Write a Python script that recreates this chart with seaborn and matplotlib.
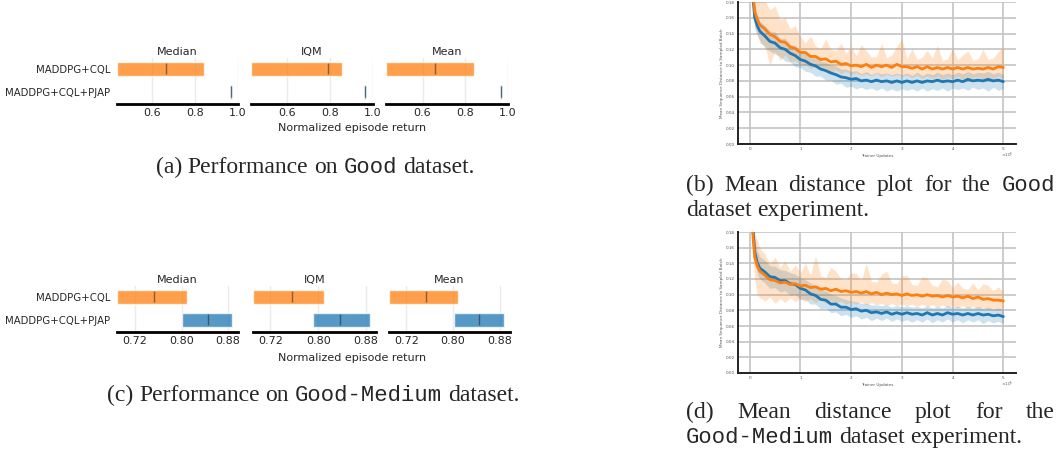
import numpy as np
import pandas as pd
import matplotlib
matplotlib.use("Agg")
import matplotlib.pyplot as plt
from matplotlib.ticker import FixedLocator, FormatStrFormatter
import seaborn as sns

W, H = 1062, 454

ALGOS = ["MADDPG+CQL", "MADDPG+CQL+PJAP"]
METRICS = ["Median", "IQM", "Mean"]

# (a) Good dataset: CI low / CI high / point estimate, one value per metric
GOOD_CQL_LO = [0.440, 0.432, 0.428]
GOOD_CQL_HI = [0.842, 0.855, 0.842]
GOOD_CQL_PT = [0.665, 0.791, 0.660]
GOOD_PJAP_LO = [0.961, 0.957, 0.965]
GOOD_PJAP_HI = [0.970, 0.967, 0.975]
GOOD_PJAP_PT = [0.966, 0.962, 0.970]
GOOD_TICKS = [0.6, 0.8, 1.0]

# (c) Good-Medium dataset
GM_CQL_LO = [0.689, 0.691, 0.690]
GM_CQL_HI = [0.8085, 0.8096, 0.809]
GM_CQL_PT = [0.753, 0.757, 0.753]
GM_PJAP_LO = [0.8005, 0.7916, 0.802]
GM_PJAP_HI = [0.887, 0.887, 0.888]
GM_PJAP_PT = [0.845, 0.837, 0.844]
GM_TICKS = [0.72, 0.80, 0.88]

# trainer updates (x 1e5) shared by the distance curves
UPDATES = [0.02, 0.06, 0.1, 0.15, 0.2,
           0.3, 0.4, 0.5, 0.6, 0.7, 0.8, 0.9, 1.0,
           1.1, 1.2, 1.3, 1.4, 1.5, 1.6, 1.7, 1.8, 1.9, 2.0,
           2.1, 2.2, 2.3, 2.4, 2.5, 2.6, 2.7, 2.8, 2.9, 3.0,
           3.1, 3.2, 3.3, 3.4, 3.5, 3.6, 3.7, 3.8, 3.9, 4.0,
           4.1, 4.2, 4.3, 4.4, 4.5, 4.6, 4.7, 4.8, 4.9, 5.0]
X_TICKS = [0, 1, 2, 3, 4, 5]

# (b) Good dataset distance curves
B_BLUE = [0.260, 0.190, 0.160, 0.150, 0.143,
          0.137, 0.130, 0.128, 0.122, 0.120, 0.115, 0.112, 0.107,
          0.105, 0.101, 0.099, 0.095, 0.093, 0.090, 0.088, 0.085, 0.084, 0.082,
          0.083, 0.080, 0.081, 0.079, 0.081, 0.079, 0.080, 0.078, 0.080, 0.078,
          0.080, 0.078, 0.080, 0.078, 0.080, 0.079, 0.081, 0.079, 0.080, 0.079,
          0.081, 0.079, 0.082, 0.080, 0.081, 0.080, 0.082, 0.080, 0.081, 0.079]
B_BLUE_LO = [0.240, 0.170, 0.146, 0.138, 0.131,
             0.122, 0.118, 0.114, 0.111, 0.105, 0.104, 0.098, 0.097,
             0.092, 0.091, 0.086, 0.086, 0.081, 0.081, 0.076, 0.077, 0.072, 0.073,
             0.070, 0.072, 0.069, 0.071, 0.068, 0.071, 0.067, 0.070, 0.067, 0.070,
             0.068, 0.070, 0.067, 0.071, 0.067, 0.070, 0.068, 0.071, 0.067, 0.071,
             0.069, 0.071, 0.068, 0.072, 0.069, 0.071, 0.067, 0.072, 0.068, 0.070]
B_BLUE_HI = [0.290, 0.210, 0.175, 0.163, 0.156,
             0.150, 0.143, 0.142, 0.134, 0.134, 0.126, 0.125, 0.118,
             0.117, 0.111, 0.111, 0.105, 0.104, 0.100, 0.099, 0.095, 0.095, 0.092,
             0.093, 0.089, 0.092, 0.088, 0.091, 0.089, 0.090, 0.088, 0.090, 0.088,
             0.090, 0.087, 0.091, 0.087, 0.090, 0.088, 0.091, 0.088, 0.090, 0.088,
             0.091, 0.089, 0.092, 0.089, 0.091, 0.090, 0.092, 0.089, 0.091, 0.088]
B_ORANGE = [0.270, 0.200, 0.168, 0.158, 0.151,
            0.146, 0.139, 0.136, 0.130, 0.129, 0.123, 0.121, 0.116,
            0.116, 0.111, 0.111, 0.107, 0.108, 0.104, 0.105, 0.101, 0.102, 0.099,
            0.100, 0.098, 0.101, 0.097, 0.100, 0.098, 0.100, 0.097, 0.101, 0.098,
            0.098, 0.096, 0.098, 0.095, 0.098, 0.095, 0.097, 0.095, 0.097, 0.095,
            0.097, 0.095, 0.097, 0.095, 0.096, 0.095, 0.097, 0.095, 0.098, 0.097]
B_ORANGE_LO = [0.240, 0.175, 0.150, 0.140, 0.128,
               0.125, 0.100, 0.118, 0.106, 0.113, 0.104, 0.106, 0.100,
               0.101, 0.096, 0.098, 0.093, 0.095, 0.091, 0.094, 0.089, 0.092, 0.088,
               0.090, 0.087, 0.089, 0.086, 0.090, 0.085, 0.089, 0.086, 0.088, 0.086,
               0.087, 0.084, 0.087, 0.083, 0.086, 0.083, 0.086, 0.082, 0.085, 0.083,
               0.086, 0.082, 0.085, 0.083, 0.086, 0.082, 0.085, 0.083, 0.086, 0.083]
B_ORANGE_HI = [0.300, 0.230, 0.200, 0.190, 0.185,
               0.182, 0.170, 0.175, 0.158, 0.160, 0.146, 0.150, 0.136,
               0.128, 0.137, 0.124, 0.121, 0.133, 0.120, 0.118, 0.128, 0.115, 0.124,
               0.112, 0.126, 0.118, 0.110, 0.111, 0.128, 0.109, 0.113, 0.124, 0.133,
               0.108, 0.121, 0.107, 0.110, 0.119, 0.109, 0.125, 0.106, 0.108, 0.122,
               0.107, 0.113, 0.118, 0.106, 0.108, 0.120, 0.107, 0.109, 0.117, 0.124]

# (d) Good-Medium dataset distance curves
D_BLUE = [0.280, 0.190, 0.155, 0.141, 0.134,
          0.129, 0.123, 0.122, 0.118, 0.118, 0.114, 0.113, 0.108,
          0.106, 0.101, 0.099, 0.094, 0.093, 0.088, 0.088, 0.084, 0.084, 0.081,
          0.082, 0.079, 0.080, 0.077, 0.078, 0.076, 0.078, 0.075, 0.077, 0.075,
          0.077, 0.075, 0.076, 0.074, 0.077, 0.074, 0.076, 0.074, 0.077, 0.075,
          0.076, 0.074, 0.076, 0.074, 0.076, 0.074, 0.075, 0.073, 0.074, 0.072]
D_BLUE_LO = [0.255, 0.170, 0.140, 0.127, 0.120,
             0.115, 0.108, 0.109, 0.103, 0.105, 0.099, 0.100, 0.094,
             0.094, 0.088, 0.088, 0.082, 0.083, 0.077, 0.078, 0.073, 0.075, 0.071,
             0.073, 0.069, 0.071, 0.067, 0.070, 0.067, 0.070, 0.066, 0.069, 0.066,
             0.068, 0.065, 0.068, 0.065, 0.069, 0.064, 0.068, 0.065, 0.069, 0.065,
             0.068, 0.064, 0.068, 0.065, 0.068, 0.063, 0.067, 0.064, 0.066, 0.063]
D_BLUE_HI = [0.305, 0.215, 0.172, 0.157, 0.149,
             0.144, 0.137, 0.136, 0.132, 0.131, 0.128, 0.126, 0.122,
             0.119, 0.115, 0.112, 0.108, 0.105, 0.101, 0.099, 0.096, 0.094, 0.092,
             0.091, 0.089, 0.089, 0.087, 0.087, 0.086, 0.087, 0.084, 0.086, 0.084,
             0.086, 0.084, 0.085, 0.083, 0.086, 0.083, 0.085, 0.083, 0.086, 0.084,
             0.085, 0.083, 0.085, 0.083, 0.085, 0.083, 0.084, 0.082, 0.083, 0.081]
D_ORANGE = [0.280, 0.180, 0.148, 0.137, 0.130,
            0.125, 0.119, 0.118, 0.115, 0.116, 0.113, 0.114, 0.111,
            0.112, 0.109, 0.110, 0.107, 0.108, 0.105, 0.107, 0.104, 0.105, 0.103,
            0.104, 0.102, 0.104, 0.101, 0.103, 0.100, 0.102, 0.100, 0.101, 0.099,
            0.101, 0.099, 0.100, 0.098, 0.100, 0.098, 0.099, 0.097, 0.099, 0.097,
            0.098, 0.096, 0.098, 0.095, 0.097, 0.094, 0.095, 0.093, 0.093, 0.092]
D_ORANGE_LO = [0.250, 0.150, 0.120, 0.100, 0.096,
               0.092, 0.097, 0.089, 0.095, 0.090, 0.096, 0.091, 0.095,
               0.091, 0.095, 0.090, 0.094, 0.089, 0.093, 0.089, 0.092, 0.088, 0.091,
               0.088, 0.091, 0.087, 0.090, 0.087, 0.089, 0.086, 0.089, 0.086, 0.088,
               0.086, 0.088, 0.085, 0.088, 0.085, 0.087, 0.084, 0.087, 0.084, 0.086,
               0.083, 0.086, 0.083, 0.085, 0.082, 0.084, 0.081, 0.083, 0.080, 0.082]
D_ORANGE_HI = [0.310, 0.215, 0.180, 0.170, 0.160,
               0.152, 0.140, 0.148, 0.135, 0.143, 0.130, 0.138, 0.128,
               0.140, 0.125, 0.150, 0.124, 0.122, 0.135, 0.130, 0.120, 0.119, 0.128,
               0.127, 0.118, 0.140, 0.117, 0.116, 0.126, 0.130, 0.115, 0.114, 0.124,
               0.125, 0.113, 0.112, 0.123, 0.121, 0.112, 0.110, 0.120, 0.118, 0.109,
               0.116, 0.108, 0.107, 0.115, 0.106, 0.114, 0.112, 0.105, 0.110, 0.104]

sns.set_theme(style="white")
plt.rcParams['font.family'] = ['DejaVu Sans']
pal = sns.color_palette("tab10")
BLUE, ORANGE = pal[0], pal[1]
ALGO_COLORS = [ORANGE, BLUE]


def px_rect(x0, y0, x1, y1):
    return [x0 / W, 1 - y1 / H, (x1 - x0) / W, (y1 - y0) / H]


def interval_row(fig, spans, top, bottom, lows, highs, points, ticks, fmt):
    for m, metric in enumerate(METRICS):
        ax = fig.add_axes(px_rect(spans[m][0], top, spans[m][1], bottom))
        for i, algo in enumerate(ALGOS):
            lo, hi, pt = lows[i][m], highs[i][m], points[i][m]
            ax.barh(y=i, width=hi - lo, left=lo, height=0.6,
                    color=ALGO_COLORS[i], alpha=0.75)
            ax.vlines(pt, i - 7.5 * 0.6 / 16, i + 6 * 0.6 / 16,
                      color='k', alpha=0.5, lw=1)
        ax.autoscale_view()
        x_lo, x_hi = ax.get_xlim()
        ax.set_xlim(x_lo, max(x_hi, ticks[-1]))
        ax.set_ylim(1.52, -0.48)
        ax.xaxis.set_major_locator(FixedLocator(ticks))
        ax.xaxis.set_major_formatter(FormatStrFormatter(fmt))
        if m == 0:
            ax.set_yticks(range(len(ALGOS)))
            ax.set_yticklabels(ALGOS, fontsize=7.3)
        else:
            ax.set_yticks([])
        ax.set_title(metric, fontsize=8, pad=2)
        for side in ['left', 'top', 'right']:
            ax.spines[side].set_visible(False)
        ax.spines['bottom'].set_linewidth(2)
        ax.spines['bottom'].set_color('black')
        ax.tick_params(axis='x', length=0, labelsize=8, pad=3)
        ax.tick_params(axis='y', length=0, pad=5)
        ax.grid(True, axis='x', color='#b0b0b0', alpha=0.25)
        ax.set_axisbelow(True)


def distance_plot(fig, rect, blue, blue_lo, blue_hi, orange, orange_lo, orange_hi):
    ax = fig.add_axes(rect)
    ax.fill_between(UPDATES, blue_lo, blue_hi, color=BLUE, alpha=0.22, lw=0)
    ax.fill_between(UPDATES, orange_lo, orange_hi, color=ORANGE, alpha=0.22, lw=0)
    df = pd.DataFrame({'updates': UPDATES + UPDATES,
                       'dist': blue + orange,
                       'algo': ['PJAP'] * len(UPDATES) + ['CQL'] * len(UPDATES)})
    sns.lineplot(data=df, x='updates', y='dist', hue='algo',
                 palette={'PJAP': BLUE, 'CQL': ORANGE}, lw=2.0,
                 legend=False, ax=ax, errorbar=None, sort=False)
    ax.set_ylim(0, 0.18)
    ax.set_yticks(np.arange(0, 0.181, 0.02))
    ax.yaxis.set_major_formatter(FormatStrFormatter('%.2f'))
    ax.set_xticks(X_TICKS)
    ax.text(0.99, -0.045, r'$\times10^{5}$', transform=ax.transAxes,
            fontsize=3, ha='right', va='top', color='#555555')
    ax.grid(True, color='#c4c4c4', lw=1.2)
    for side in ['top', 'right']:
        ax.spines[side].set_visible(False)
    for side in ['left', 'bottom']:
        ax.spines[side].set_color('#222222')
        ax.spines[side].set_linewidth(1.4)
    ax.tick_params(labelsize=3, length=1.5, width=0.5, pad=1, colors='#555555')
    ax.set_xlabel('Trainer Updates', fontsize=3, labelpad=1.5, color='#555555')
    ax.set_ylabel('Mean Sequence Distance to Sampled Batch', fontsize=3,
                  labelpad=1, color='#555555')


def caption(fig, words, baseline, x0=None, x1=None, center=None,
            size=17, mono_size=16):
    r = fig.canvas.get_renderer()
    arts = []
    for w, mono in words:
        if mono:
            t = fig.text(0, 1 - baseline / H, w, family='Liberation Mono',
                         fontsize=mono_size, va='baseline', ha='left')
        else:
            t = fig.text(0, 1 - baseline / H, w, family='Liberation Serif',
                         fontsize=size, va='baseline', ha='left')
        arts.append(t)
    widths = [t.get_window_extent(r).width for t in arts]
    gap = 0.25 * size * fig.dpi / 72
    if x1 is not None:
        gap = (x1 - x0 - sum(widths)) / (len(words) - 1)
    total = sum(widths) + gap * (len(words) - 1)
    pos = center - total / 2 if center is not None else x0
    for t, w in zip(arts, widths):
        t.set_x(pos / W)
        pos += w + gap


fig = plt.figure(figsize=(W / 100, H / 100), dpi=100)

interval_row(fig, [(117, 238), (251, 373), (386, 508)], 58, 104,
             [GOOD_CQL_LO, GOOD_PJAP_LO], [GOOD_CQL_HI, GOOD_PJAP_HI],
             [GOOD_CQL_PT, GOOD_PJAP_PT], GOOD_TICKS, '%.1f')
fig.text(352 / W, 1 - 128 / H, 'Normalized episode return', fontsize=8,
         ha='center', va='center')

interval_row(fig, [(117, 238), (253, 376), (389, 510)], 286, 332,
             [GM_CQL_LO, GM_PJAP_LO], [GM_CQL_HI, GM_PJAP_HI],
             [GM_CQL_PT, GM_PJAP_PT], GM_TICKS, '%.2f')
fig.text(352 / W, 1 - 358 / H, 'Normalized episode return', fontsize=8,
         ha='center', va='center')

distance_plot(fig, px_rect(738, 2, 1016, 144),
              B_BLUE, B_BLUE_LO, B_BLUE_HI, B_ORANGE, B_ORANGE_LO, B_ORANGE_HI)
distance_plot(fig, px_rect(738, 232, 1016, 373),
              D_BLUE, D_BLUE_LO, D_BLUE_HI, D_ORANGE, D_ORANGE_LO, D_ORANGE_HI)

caption(fig, [('(a)', False), ('Performance', False), ('on', False),
              ('Good', True), ('dataset.', False)], 173, center=315)
caption(fig, [('(c)', False), ('Performance', False), ('on', False),
              ('Good-Medium', True), ('dataset.', False)], 401, center=313)
caption(fig, [('(b)', False), ('Mean', False), ('distance', False), ('plot', False),
              ('for', False), ('the', False), ('Good', True)], 191, x0=686, x1=1055)
caption(fig, [('dataset', False), ('experiment.', False)], 216, x0=686)
caption(fig, [('(d)', False), ('Mean', False), ('distance', False), ('plot', False),
              ('for', False), ('the', False)], 418, x0=686, x1=1055)
caption(fig, [('Good-Medium', True), ('dataset', False), ('experiment.', False)],
        443, x0=686)

fig.savefig('out.png', dpi=100)
